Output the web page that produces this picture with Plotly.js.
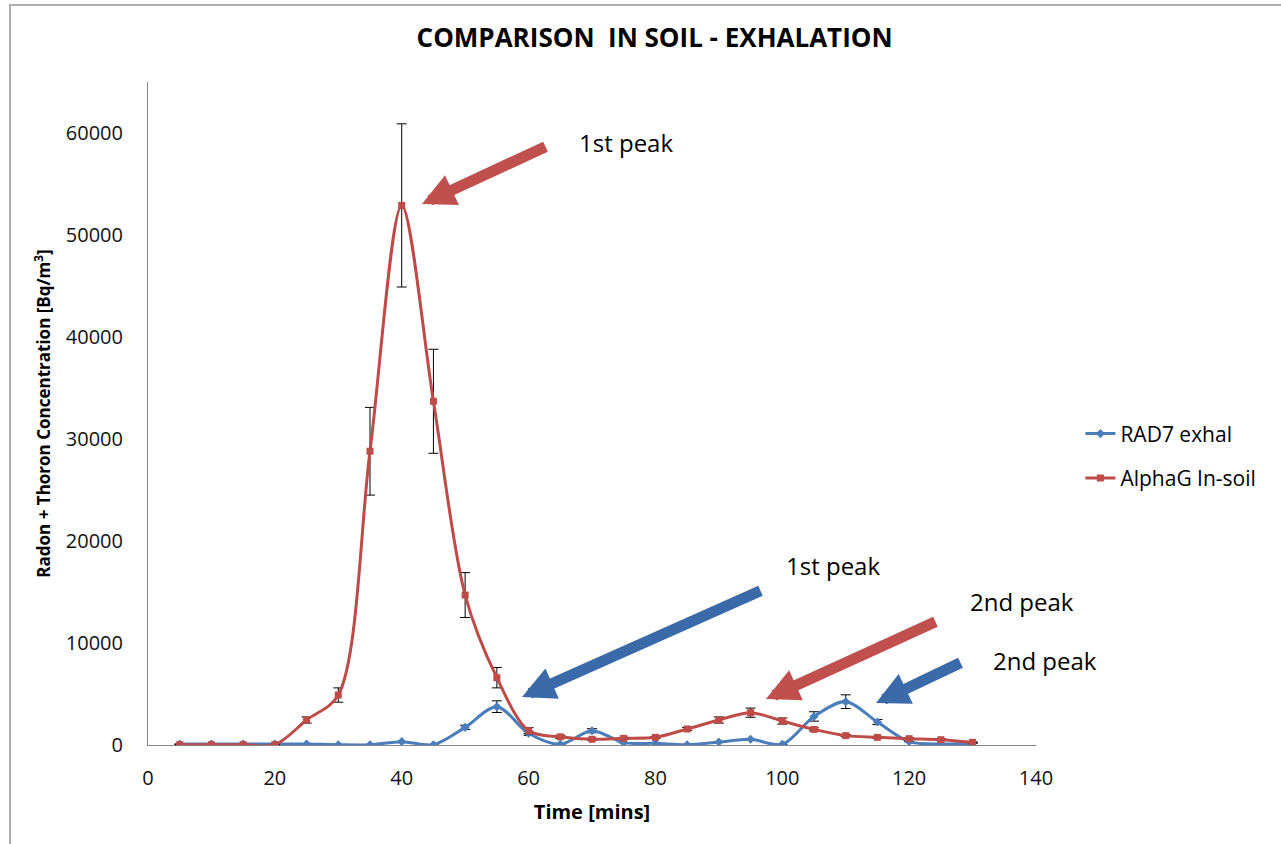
<!DOCTYPE html>
<html>
<head>
<meta charset="utf-8">
<script src="https://cdn.plot.ly/plotly-3.0.1.min.js"></script>
<style>
html,body{margin:0;padding:0;background:#fff;}
#chart{width:1281px;height:844px;}
</style>
</head>
<body>
<div id="chart"></div>
<script>
// Time [mins]
const timeMins = [5,10,15,20,25,30,35,40,45,50,55,60,65,70,75,80,85,90,95,100,105,110,115,120,125,130];
// RAD7 exhal
const rad7Values = [100,100,100,100,100,30,30,330,30,1730,3760,1150,70,1400,230,160,20,290,560,70,2800,4250,2250,330,100,160];
const rad7Errors = [0,0,0,0,0,0,0,0,0,200,570,200,0,200,0,0,0,0,0,0,460,670,250,0,0,0];
// AlphaG In-soil
const alphaValues = [30,30,30,30,2450,4900,28800,52900,33700,14700,6600,1400,800,560,650,750,1570,2450,3170,2350,1530,920,750,620,520,260];
const alphaErrors = [0,0,0,0,300,700,4300,8000,5100,2200,1000,300,150,100,100,100,150,300,450,300,150,100,100,100,100,50];

const seriesNames = ["RAD7 exhal","AlphaG In-soil"];
const peakLabels = ["1st peak","1st peak","2nd peak","2nd peak"];
const xTicks = [0,20,40,60,80,100,120,140];
const yTicks = [0,10000,20000,30000,40000,50000,60000];

const FONT = "Open Sans, Lato, sans-serif";
const BLUE = "#4A7EBB", RED = "#BE4B48";

const traces = [
  {
    x: timeMins, y: rad7Values, name: seriesNames[0], type: "scatter", mode: "lines+markers",
    legendgroup: "a",
    line: {color: BLUE, width: 3, shape: "spline", smoothing: 0.9},
    marker: {symbol: "diamond", size: 7, color: BLUE},
    error_y: {type: "data", array: rad7Errors, visible: true, color: "#000", thickness: 1, width: 5}
  },
  {
    x: timeMins, y: alphaValues, name: seriesNames[1], type: "scatter", mode: "lines+markers",
    legendgroup: "b",
    line: {color: RED, width: 3, shape: "spline", smoothing: 0.9},
    marker: {symbol: "square", size: 7, color: RED},
    error_y: {type: "data", array: alphaErrors, visible: true, color: "#000", thickness: 1, width: 5}
  }
];

function arrow(x, y, ax, ay, color) {
  return {x: x, y: y, xref: "paper", yref: "paper", ax: ax, ay: ay, text: "", showarrow: true,
    arrowhead: 2, arrowsize: 0.6, arrowwidth: 11, arrowcolor: color, standoff: 0};
}
function label(x, y, t) {
  return {x: x, y: y, xref: "paper", yref: "paper", text: t, showarrow: false,
    xanchor: "center", yanchor: "middle",
    font: {family: FONT, size: 24, color: "#000"}};
}

const layout = {
  width: 1281, height: 844,
  margin: {l: 148, r: 245, t: 82, b: 99},
  paper_bgcolor: "#fff", plot_bgcolor: "#fff",
  title: {text: "<b>COMPARISON  IN SOIL - EXHALATION</b>", x: 0.511, xanchor: "center", y: 0.955, yanchor: "middle",
    font: {family: FONT, size: 26, color: "#000"}},
  font: {family: FONT},
  showlegend: true,
  legend: {x: 1.05, xanchor: "left", y: 0.436, yanchor: "middle", tracegroupgap: 14,
    font: {family: FONT, size: 21, color: "#000"}, bgcolor: "rgba(0,0,0,0)"},
  xaxis: {
    range: [0, 140], tickvals: xTicks, ticktext: xTicks.map(String),
    showgrid: false, zeroline: false, showline: true, linecolor: "#868686", linewidth: 1,
    ticks: "", ticklabelstandoff: 15,
    tickfont: {family: FONT, size: 20, color: "#111"},
    title: {text: "<b>Time [mins]</b>", font: {family: FONT, size: 20, color: "#000"}, standoff: 14}
  },
  yaxis: {
    range: [0, 65000], tickvals: yTicks, ticktext: yTicks.map(String),
    showgrid: false, zeroline: false, showline: true, linecolor: "#868686", linewidth: 1,
    ticks: "", ticklabelstandoff: 20,
    tickfont: {family: FONT, size: 20, color: "#111"},
    title: {text: "<b>Radon + Thoron Concentration [Bq/m<sup>3</sup>]</b>", font: {family: FONT, size: 17, color: "#000"}, standoff: 10}
  },
  annotations: [
    arrow(0.3086, 0.8160, 125, -58, "#C0504D"),
    arrow(0.4212, 0.0724, 240, -107, "#3A6BA8"),
    arrow(0.6959, 0.0694, 171, -78, "#C0504D"),
    arrow(0.8198, 0.0633, 86, -41, "#3A6BA8"),
    label(0.5383, 0.9095, peakLabels[0]),
    label(0.7714, 0.2700, peakLabels[1]),
    label(0.9842, 0.2157, peakLabels[2]),
    label(1.0101, 0.1267, peakLabels[3])
  ],
  shapes: [
    {type: "rect", xref: "paper", yref: "paper", x0: -0.1554, x1: 1.6, y0: -0.5, y1: 1.116,
     line: {color: "#AFAFAF", width: 2}, fillcolor: "rgba(0,0,0,0)", layer: "below"}
  ]
};

Plotly.newPlot("chart", traces, layout, {displayModeBar: false, responsive: false});
</script>
</body>
</html>
